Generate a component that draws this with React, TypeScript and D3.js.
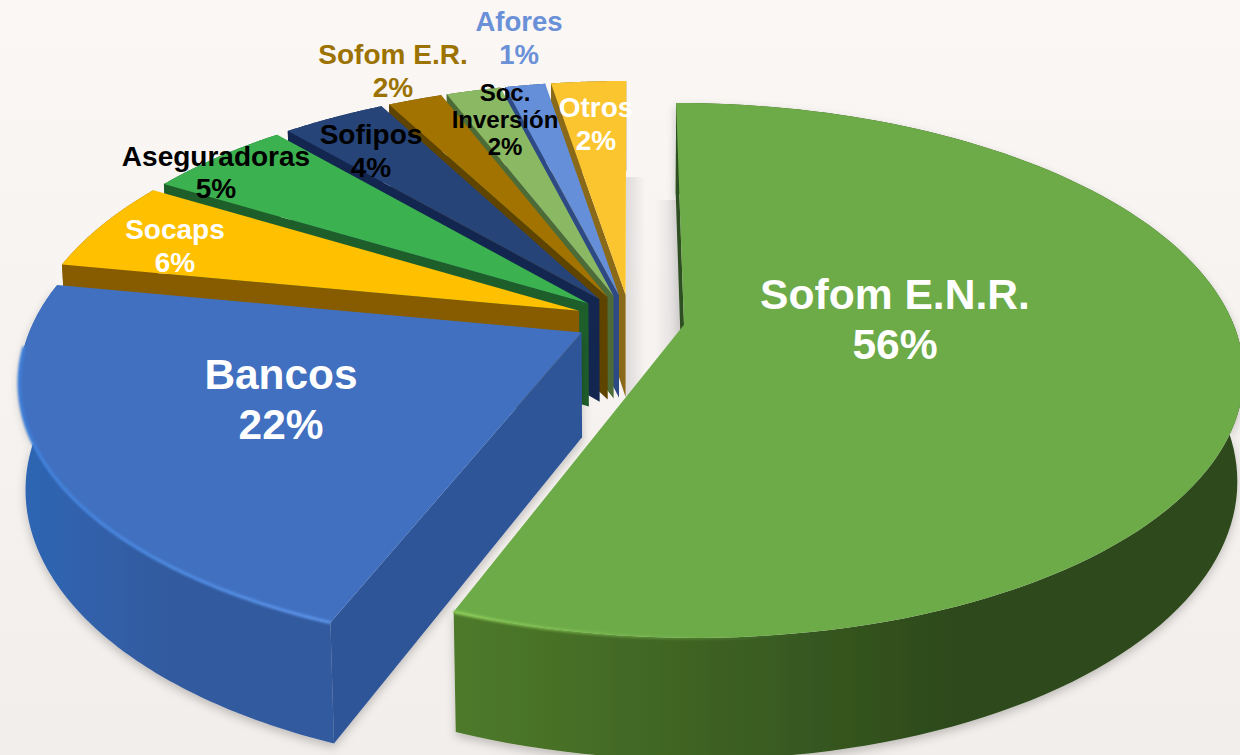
import React from "react";
import * as d3 from "d3";

const categories = ["Sofom E.N.R.", "Bancos", "Socaps", "Aseguradoras", "Sofipos", "Sofom E.R.", "Soc. Inversión", "Afores", "Otros"];
const shares = [56, 22, 5.6, 5, 3.6, 1.9, 1.9, 1.4, 2.6];
const percentLabels = ["56%", "22%", "6%", "5%", "4%", "2%", "2%", "1%", "2%"];

const topColors = ["#6CAB48", "#4170C0", "#FFC000", "#3CB14F", "#264478", "#A27300", "#8BB862", "#658FD8", "#FBC52F"];
const faceColors = ["#2F5020", "#2F5597", "#875C00", "#1E5E2B", "#13264F", "#5F4400", "#4C6B36", "#2E4A85", "#8A6A18"];
const rimLeft = ["#4E7A2A", "#2E66B4", "#8A6000", "#22692F", "#16305F", "#6A4C00", "#557A3C", "#34558F", "#9A7620"];
const rimRight = ["#2D4A1C", "#335A9E", "#7A5500", "#1E5E2B", "#13264F", "#5F4400", "#4C6B36", "#2E4A85", "#8A6A18"];

const W = 1240, H = 755;
const cx = 630, cy = 320, R = 548, tilt = 258, persp = 0.17, explode = 0.1;

function project(u: number, v: number, h: number): [number, number] {
  const w = 1 - persp * v + 0.01 * h;
  return [cx + (R * u) / w, cy + (tilt * v + h * 105) / w];
}

const pieGen = d3.pie<number>().sort(null).value(d => d).startAngle(0).endAngle(2 * Math.PI);
const arcs = pieGen(shares);
const line = d3.line<[number, number]>();

const labelFills = ["#fff", "#fff", "#fff", "#000", "#000", "#9C7200", "#000", "#6A90D8", "#fff"];
const labelPos = [
  [895, 309, 42.6, 50], [281, 389, 42.4, 50], [175, 239, 28, 33], [216, 166, 28, 32], [371, 144, 28, 33],
  [393, 64, 28, 33], [505, 101, 24, 27], [519, 31, 27.5, 33], [596, 117, 28, 33],
];

function Slice({ i }: { i: number }) {
  const a = arcs[i];
  const mid = (a.startAngle + a.endAngle) / 2;
  const ox = explode * Math.sin(mid), oy = -explode * Math.cos(mid);
  const pt = (t: number, r: number, h: number) => project(ox + r * Math.sin(t), oy - r * Math.cos(t), h);
  const ts = d3.range(0, 121).map(k => a.startAngle + ((a.endAngle - a.startAngle) * k) / 120);
  const rimTop = ts.map(t => pt(t, 1, 0));
  const rimBot = ts.map(t => pt(t, 1, 1)).reverse();
  const top = [pt(0, 0, 0), ...rimTop];
  const face = [pt(0, 0, 0), pt(a.startAngle, 1, 0), pt(a.startAngle, 1, 1), pt(0, 0, 1)];
  const frontRim = rimTop.filter((_, k) => -Math.cos(ts[k]) > 0.05);
  return (
    <g>
      <g filter={i < 2 ? "url(#soft)" : undefined}>
        <path d={line([...rimTop, ...rimBot])! + "Z"} fill={`url(#rim${i})`} />
        <path d={line(face)! + "Z"} fill={faceColors[i]} />
      </g>
      <path d={line(top)! + "Z"} fill={topColors[i]} />
      {i < 2 && <path d={line(frontRim)!} fill="none" stroke={`url(#hl${i})`} strokeWidth={3.5} filter="url(#hlblur)" />}
    </g>
  );
}

export default function App() {
  const order = d3.range(categories.length).slice(2).reverse().concat([1, 0]);
  const labelOf = (i: number): string[] => (i === 6 ? ["Soc.", "Inversión"] : [categories[i]]);
  return (
    <svg width={W} height={H} viewBox={`0 0 ${W} ${H}`} style={{ position: "fixed", left: 0, top: 0 }} fontFamily="'Liberation Sans', Arial, sans-serif" fontWeight="bold">
      <defs>
        {categories.map((_, i) => (
          <linearGradient key={i} id={`rim${i}`} gradientUnits="userSpaceOnUse" x1={i === 0 ? 460 : 20} y1={0} x2={i === 0 ? 950 : 170} y2={0}>
            <stop offset="0" stopColor={rimLeft[i]} />
            <stop offset="1" stopColor={rimRight[i]} />
          </linearGradient>
        ))}
        <linearGradient id="hl0" gradientUnits="userSpaceOnUse" x1={455} y1={0} x2={800} y2={0}>
          <stop offset="0" stopColor="#8CCB58" />
          <stop offset="1" stopColor="#6CAB48" stopOpacity="0" />
        </linearGradient>
        <linearGradient id="hl1" gradientUnits="userSpaceOnUse" x1={15} y1={0} x2={335} y2={0}>
          <stop offset="0" stopColor="#3F7FD8" />
          <stop offset="1" stopColor="#5A90E4" />
        </linearGradient>
        <linearGradient id="bg" x1="0" y1="0" x2="0" y2="1">
          <stop offset="0" stopColor="#FAF7F5" />
          <stop offset="1" stopColor="#F2EEEB" />
        </linearGradient>
        <linearGradient id="gapL" gradientUnits="userSpaceOnUse" x1={626} y1={0} x2={645} y2={0}>
          <stop offset="0" stopColor="#DDDADA" />
          <stop offset="1" stopColor="#DDDADA" stopOpacity="0" />
        </linearGradient>
        <linearGradient id="gapR" gradientUnits="userSpaceOnUse" x1={655} y1={0} x2={680} y2={0}>
          <stop offset="0" stopColor="#DDDADA" stopOpacity="0" />
          <stop offset="1" stopColor="#DDDADA" />
        </linearGradient>
        <filter id="soft" x="-10%" y="-10%" width="120%" height="120%">
          <feDropShadow dx={0} dy={4} stdDeviation={5} floodColor="#000" floodOpacity={0.22} />
        </filter>
        <filter id="hlblur" x="-5%" y="-10%" width="110%" height="120%">
          <feGaussianBlur stdDeviation={1} />
        </filter>
      </defs>
      <rect width={W} height={H} fill="url(#bg)" />
      <rect x={626} y={177} width={20} height={240} fill="url(#gapL)" />
      <rect x={655} y={200} width={26} height={200} fill="url(#gapR)" />
      {order.map(i => <Slice key={i} i={i} />)}
      {categories.map((_, i) => {
        const [x, y, size, lh] = labelPos[i];
        const rows = [...labelOf(i), percentLabels[i]];
        return (
          <text key={i} x={x} y={y} fontSize={size} fill={labelFills[i]} textAnchor="middle">
            {rows.map((r, k) => <tspan key={k} x={x} dy={k === 0 ? 0 : lh}>{r}</tspan>)}
          </text>
        );
      })}
    </svg>
  );
}
